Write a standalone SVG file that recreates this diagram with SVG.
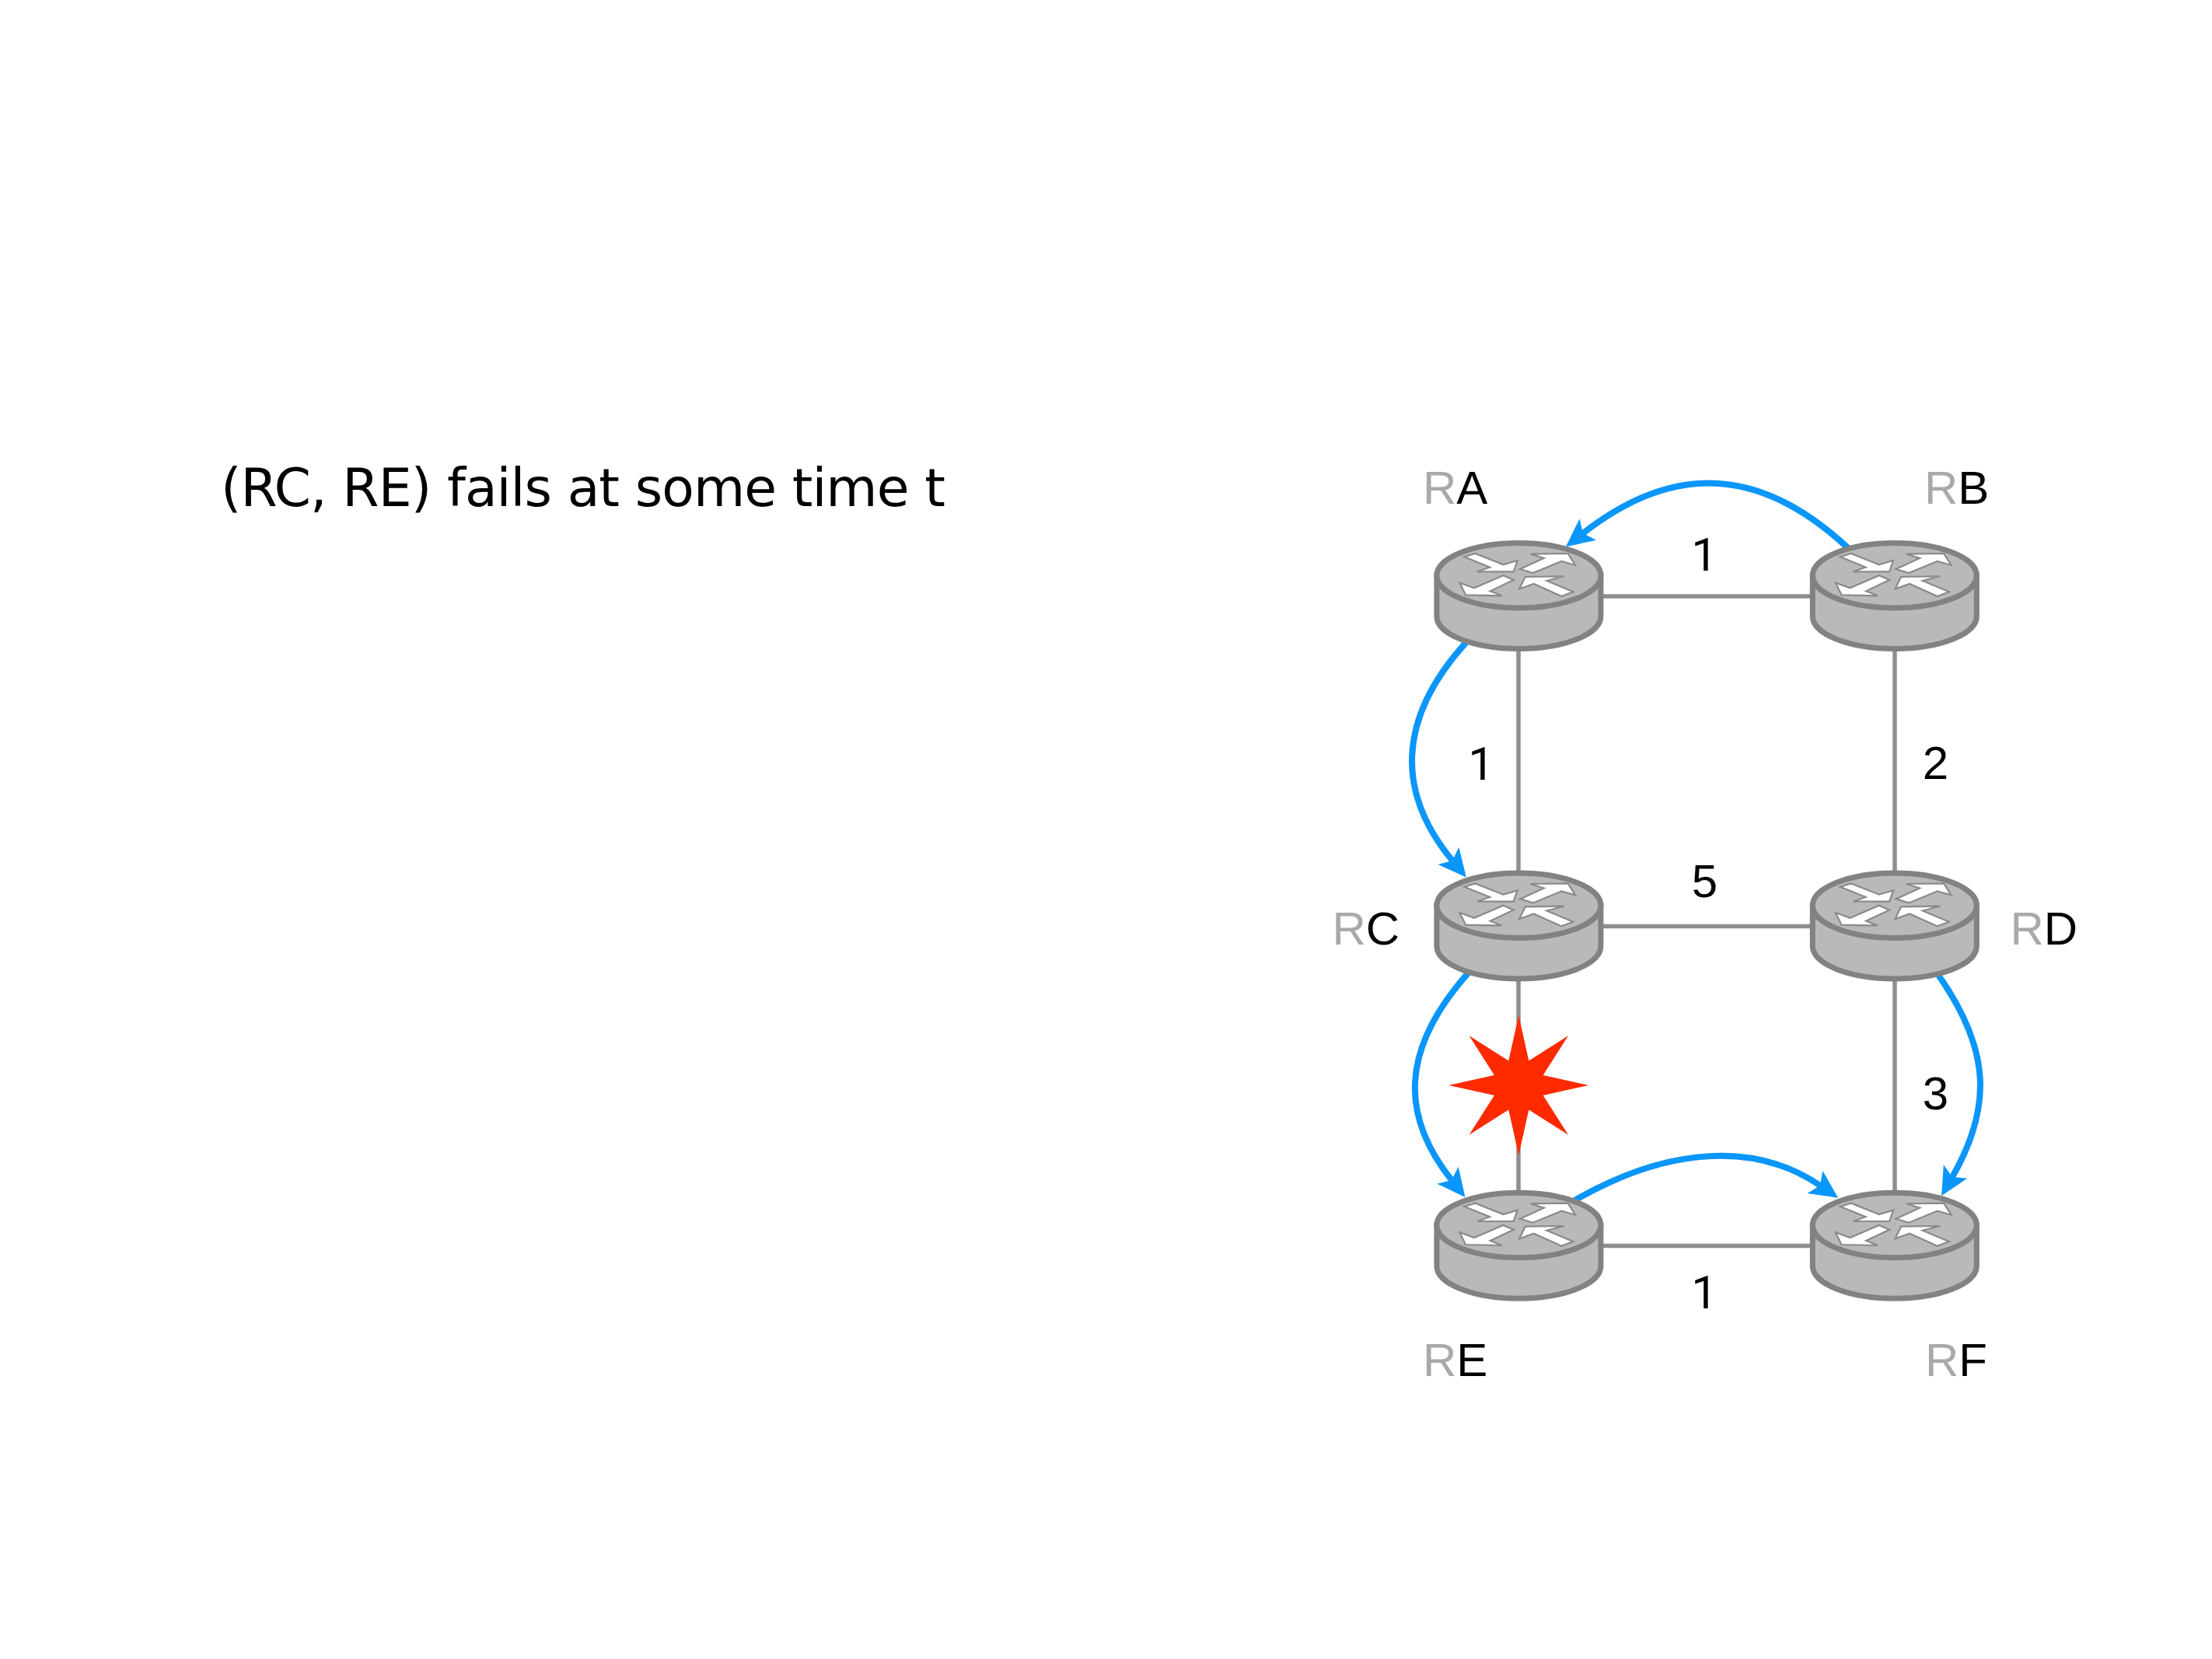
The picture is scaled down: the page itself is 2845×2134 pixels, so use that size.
<svg xmlns="http://www.w3.org/2000/svg" xmlns:xlink="http://www.w3.org/1999/xlink" width="2845" height="2134" viewBox="0 0 2845 2134">
  <style>
    text { font-family: "Liberation Sans", Arial, sans-serif; font-size: 60px; fill: #000; }
    .r { fill: #a9a9a9; }
    .one { font-family: Roboto, "Liberation Sans", sans-serif; }
    .title { font-family: "DejaVu Sans", sans-serif; font-size: 68px; letter-spacing: -0.95px; }
    .link { stroke: #8f8f8f; stroke-width: 5.5; fill: none; }
    .path { stroke: #0a96fb; stroke-width: 8; fill: none; marker-end: url(#head); }
    .can { fill: #b9b9b9; stroke: #828282; stroke-width: 7; }
    .arrow { fill: #fff; stroke: #8a8a8a; stroke-width: 2.2; stroke-linejoin: miter; }
  </style>
  <defs>
    <marker id="head" markerUnits="userSpaceOnUse" markerWidth="44" markerHeight="44" refX="8" refY="22" viewBox="0 0 44 44" orient="auto">
      <path d="M0,4.5 L8,22 L0,39.5 L36,22 Z" fill="#0a96fb"/>
    </marker>
    <g id="router">
      <path class="can" d="M-105.5,0 V52.4 A105.5,41.8 0 0 0 105.5,52.4 V0 Z"/>
      <ellipse class="can" cx="0" cy="0" rx="105.5" ry="41.8"/>
      <polygon class="arrow" points="-70,-24 -56,-28.3 -20,-14 -1.7,-19.3 -6.7,-5 -53.3,-5 -37.3,-10.7"/>
      <polygon class="arrow" points="1.7,-8.3 32.3,-22.3 15,-27.7 63.3,-28.3 72.7,-13.3 55,-18.3 18.3,-3.3"/>
      <polygon class="arrow" points="-6.7,5.7 -20,0 -57.3,16 -76,9.3 -68.3,25 -21.7,26 -36.7,20"/>
      <polygon class="arrow" points="70,21 36,6.7 58.3,1 8.3,1.7 0.7,17.3 19.3,10.7 55,26.7"/>
    </g>
  </defs>
  <rect width="2845" height="2134" fill="#fff"/>

  <text class="title" x="284" y="651">(RC, RE) fails at some time t</text>

  <g id="connectors">
    <line class="link" x1="1953" y1="767" x2="2437" y2="767"/>
    <line class="link" x1="1953" y1="1191.5" x2="2437" y2="1191.5"/>
    <line class="link" x1="1953" y1="1602.5" x2="2437" y2="1602.5"/>
    <line class="link" x1="1953" y1="740" x2="1953" y2="1576"/>
    <line class="link" x1="2437" y1="740" x2="2437" y2="1576"/>
    <path class="path" d="M2378,706 C2262,597 2150,597 2036,686"/>
    <path class="path" d="M1886,826 C1796,925 1796,1020 1868,1107"/>
    <path class="path" d="M1888,1252 C1801,1350 1801,1435 1867,1518"/>
    <path class="path" d="M2490,1250 C2562,1350 2562,1425 2511,1514"/>
    <path class="path" d="M2022,1546 C2150,1471 2262,1471 2341,1525"/>
  </g>

  <polygon id="failure" fill="#ff2a00" points="1953.3,1306 1966.3,1364.6 2017,1332.3 1984.7,1383 2043.3,1396 1984.7,1409 2017,1459.7 1966.3,1427.4 1953.3,1486 1940.3,1427.4 1889.6,1459.7 1921.9,1409 1863.3,1396 1921.9,1383 1889.6,1332.3 1940.3,1364.6"/>

  <g id="node-ra">
    <use href="#router" x="1953.4" y="740.3"/>
    <text x="1830" y="648"><tspan class="r">R</tspan>A</text>
  </g>
  <g id="node-rb">
    <use href="#router" x="2436.8" y="740.3"/>
    <text x="2475" y="648"><tspan class="r">R</tspan>B</text>
  </g>
  <g id="node-rc">
    <use href="#router" x="1953.4" y="1164.7"/>
    <text x="1713.5" y="1215"><tspan class="r">R</tspan>C</text>
  </g>
  <g id="node-rd">
    <use href="#router" x="2436.8" y="1164.7"/>
    <text x="2585.5" y="1215"><tspan class="r">R</tspan>D</text>
  </g>
  <g id="node-re">
    <use href="#router" x="1953.4" y="1576"/>
    <text x="1830" y="1770"><tspan class="r">R</tspan>E</text>
  </g>
  <g id="node-rf">
    <use href="#router" x="2436.8" y="1576"/>
    <text x="2476" y="1770"><tspan class="r">R</tspan>F</text>
  </g>

  <g id="link-costs" text-anchor="middle">
    <text class="one" x="2192" y="734">1</text>
    <text class="one" x="1905" y="1003">1</text>
    <text x="2489.5" y="1002">2</text>
    <text x="2192.5" y="1154">5</text>
    <text x="2489.5" y="1427">3</text>
    <text class="one" x="2192" y="1683">1</text>
  </g>
</svg>
